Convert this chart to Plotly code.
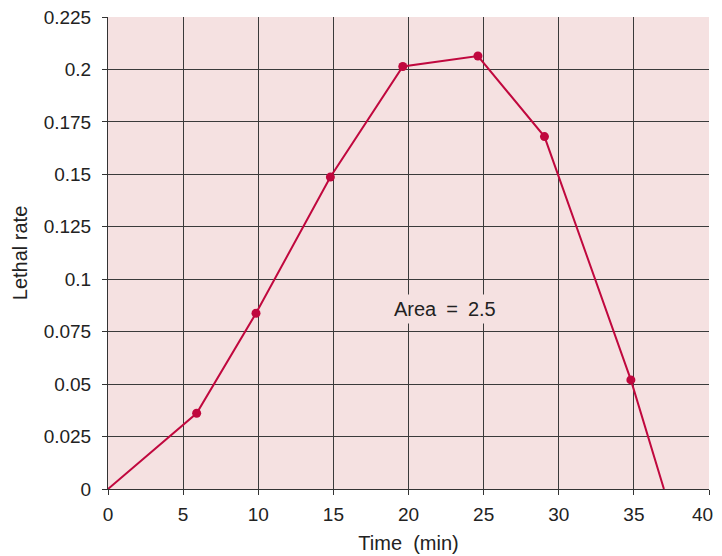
import plotly.graph_objects as go

time_min = [0, 5.9, 9.85, 14.8, 19.62, 24.62, 29.05, 34.8, 37.0]
lethal_rate = [0, 0.0361, 0.0838, 0.1487, 0.2014, 0.2064, 0.168, 0.052, 0.0]
marker_shown = [False, True, True, True, True, True, True, True, False]

x_ticks = [0, 5, 10, 15, 20, 25, 30, 35, 40]
x_tick_text = ["0", "5", "10", "15", "20", "25", "30", "35", ""]
x_last_label = "40"
y_ticks = [0, 0.025, 0.05, 0.075, 0.1, 0.125, 0.15, 0.175, 0.2, 0.225]
y_tick_text = ["0", "0.025", "0.05", "0.075", "0.1", "0.125", "0.15", "0.175", "0.2", "0.225"]

line_color = "#c0083e"
bg = "#f5e1e1"
FONT = "Liberation Sans, Arial, sans-serif"

fig = go.Figure()
fig.add_trace(go.Scatter(
    x=time_min, y=lethal_rate, mode="lines",
    line=dict(color=line_color, width=2), hoverinfo="skip", showlegend=False,
))
fig.add_trace(go.Scatter(
    x=[t for t, m in zip(time_min, marker_shown) if m],
    y=[v for v, m in zip(lethal_rate, marker_shown) if m],
    mode="markers", marker=dict(color=line_color, size=9),
    showlegend=False,
))

fig.add_annotation(
    x=22.45, y=0.0858, text="Area\u2002=\u20022.5", showarrow=False,
    font=dict(family=FONT, size=20, color="#222"),
    bgcolor=bg, borderpad=3,
)

# last x tick label, nudged left so it stays inside the visible page
fig.add_annotation(
    x=x_ticks[-1], y=0, text=x_last_label, showarrow=False,
    xanchor="right", yanchor="top", xshift=6, yshift=-13,
    font=dict(family=FONT, size=19, color="#222"),
)

axis_common = dict(
    showgrid=True, gridcolor="#3a3a3a", gridwidth=1,
    ticks="outside", ticklen=5, tickcolor="#333", tickwidth=1,
    showline=True, linecolor="#333", linewidth=1,
    zeroline=False, automargin=False, ticklabeloverflow="allow",
    tickfont=dict(family=FONT, size=19, color="#222"),
)

fig.update_layout(
    width=714, height=548,
    margin=dict(l=100, r=13, t=9, b=67),
    paper_bgcolor="white", plot_bgcolor=bg,
    xaxis=dict(range=[0, 40], tickvals=x_ticks, ticktext=x_tick_text,
               ticklabelstandoff=3,
               title=dict(text="Time  (min)", standoff=12,
                          font=dict(family=FONT, size=20, color="#222")),
               **axis_common),
    yaxis=dict(range=[0, 0.225], tickvals=y_ticks, ticktext=y_tick_text,
               ticklabelstandoff=7,
               title=dict(text="Lethal rate", standoff=10,
                          font=dict(family=FONT, size=20, color="#222")),
               **axis_common),
)

fig.write_html("out.html")
